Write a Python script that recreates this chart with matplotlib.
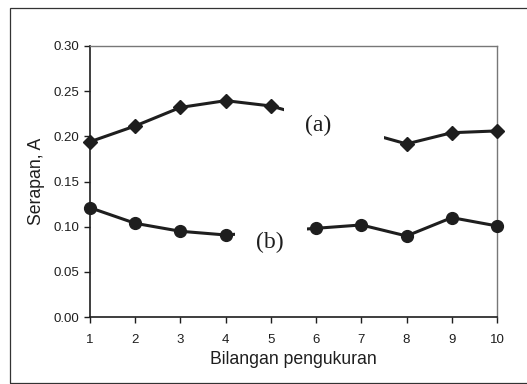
import numpy as np
import matplotlib.pyplot as plt
from matplotlib.patches import Rectangle

# Bilangan pengukuran (nomor pengukuran)
runs = [1, 2, 3, 4, 5, 6, 7, 8, 9, 10]
# (a) tanpa titik 6 dan 7, (b) tanpa titik 5
runs_a = [1, 2, 3, 4, 5, 8, 9, 10]
serapan_a = [0.194, 0.2115, 0.232, 0.2395, 0.2336, 0.1916, 0.204, 0.206]
runs_b = [1, 2, 3, 4, 6, 7, 8, 9, 10]
serapan_b = [0.121, 0.1037, 0.0949, 0.0908, 0.0982, 0.1019, 0.0897, 0.110, 0.1008]
yticks = [0.00, 0.05, 0.10, 0.15, 0.20, 0.25, 0.30]

plt.rcParams['font.family'] = ['Liberation Sans', 'DejaVu Sans']

fig = plt.figure(figsize=(5.27, 3.84), dpi=100)
ax = fig.add_axes([90 / 527, 1 - 317 / 384, 407 / 527, 271 / 384])

# Rahmen luar
fig.patches.append(Rectangle((10 / 527, 1 / 384), 1.0, 375 / 384,
                             transform=fig.transFigure, fill=False,
                             edgecolor='#333333', linewidth=0.9))

col = '#1e1e1e'
ax.plot(runs_a, serapan_a, color=col, lw=2.2, marker='D', ms=7.5, zorder=3,
        clip_on=False)
ax.plot(runs_b, serapan_b, color=col, lw=2.2, marker='o', ms=8.5, zorder=3,
        clip_on=False)

# Kotak putih label (menutupi garis)
ax.add_patch(Rectangle((5.3, 0.19), 2.2, 0.06, facecolor='white',
                       edgecolor='none', zorder=4))
ax.add_patch(Rectangle((4.2, 0.07), 1.6, 0.03, facecolor='white',
                       edgecolor='none', zorder=4))
ax.text(6.05, 0.212, '(a)', family=['Liberation Serif', 'DejaVu Serif'],
        fontsize=17, ha='center', va='center', color=col, zorder=5)
ax.text(4.98, 0.082, '(b)', family=['Liberation Serif', 'DejaVu Serif'],
        fontsize=17, ha='center', va='center', color=col, zorder=5)

ax.set_xlim(1, 10)
ax.set_ylim(0, 0.30)
ax.set_xticks(runs)
ax.set_yticks(yticks)
ax.set_yticklabels([f'{v:.2f}' for v in yticks])
ax.tick_params(labelsize=9.5, length=4, width=1, color=col, labelcolor=col)
ax.tick_params(axis='x', pad=8)

for s in ['left', 'bottom']:
    ax.spines[s].set_color(col)
    ax.spines[s].set_linewidth(1.2)
for s in ['top', 'right']:
    ax.spines[s].set_color('#777777')
    ax.spines[s].set_linewidth(1.0)

ax.set_xlabel('Bilangan pengukuran', fontsize=12.7, color=col, labelpad=4)
ax.set_ylabel('Serapan, A', fontsize=12.7, color=col, labelpad=6)

fig.savefig('out.png', dpi=100)
